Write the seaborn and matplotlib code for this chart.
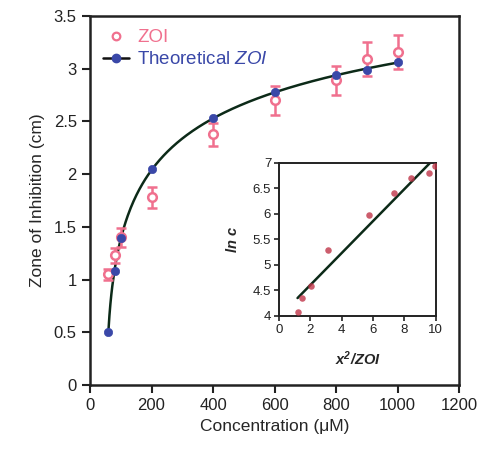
import numpy as np
import matplotlib
matplotlib.use("Agg")
import matplotlib.pyplot as plt
import seaborn as sns
from matplotlib.lines import Line2D

# main panel: concentration (uM) vs zone of inhibition (cm)
conc = [60, 80, 100, 200, 400, 600, 800, 900, 1000]
zoi = [1.05, 1.23, 1.40, 1.78, 2.38, 2.70, 2.89, 3.09, 3.16]
zoi_err = [0.05, 0.07, 0.09, 0.10, 0.11, 0.14, 0.14, 0.16, 0.16]
zoi_theo = [0.50, 1.08, 1.39, 2.05, 2.53, 2.78, 2.94, 2.99, 3.06]

# inset: x^2/ZOI vs ln c
x2_zoi = [1.19, 1.48, 2.06, 3.14, 5.71, 7.35, 8.39, 9.57, 9.92]
ln_c = [4.07, 4.36, 4.58, 5.29, 5.97, 6.41, 6.70, 6.80, 6.93]

pink = "#f0708e"
blue = "#3a48a8"
dark = "#0c2a18"
red = "#c03548"

sns.set_style("ticks")
plt.rcParams["font.family"] = ["Liberation Sans", "DejaVu Sans"]
plt.rcParams["mathtext.fontset"] = "custom"
plt.rcParams["mathtext.it"] = "Liberation Sans:italic"
plt.rcParams["mathtext.bfit"] = "Liberation Sans:bold:italic"
plt.rcParams["mathtext.bf"] = "Liberation Sans:bold"
plt.rcParams["mathtext.rm"] = "Liberation Sans"

fig = plt.figure(figsize=(4.8, 4.5), dpi=100)
ax = fig.add_axes([0.1875, 0.1444, 0.7688, 0.8200])

# smooth theoretical curve: ZOI^2 linear in ln c, fitted on the theoretical points
k, b = np.polyfit(np.log(conc), np.square(zoi_theo), 1)
cc = np.linspace(min(conc), max(conc), 300)
sns.lineplot(x=cc, y=np.sqrt(k * np.log(cc) + b), color=dark, lw=1.8, ax=ax, zorder=2)

ax.errorbar(conc, zoi, yerr=zoi_err, fmt="o", mfc="white", mec=pink, ecolor=pink,
            ms=6.2, mew=1.8, elinewidth=1.8, capsize=3.5, capthick=1.8, zorder=3)
sns.scatterplot(x=conc, y=zoi_theo, color=blue, s=36, edgecolor=blue, ax=ax, zorder=4)

ax.set_xlim(0, 1200)
ax.set_ylim(0, 3.5)
ax.set_xticks(range(0, 1201, 200))
ax.set_yticks(np.arange(0, 3.51, 0.5))
ax.set_yticklabels(["0", "0.5", "1", "1.5", "2", "2.5", "3", "3.5"])
ax.tick_params(direction="out", length=6, width=1.5, labelsize=12, colors="#222222")
for s in ax.spines.values():
    s.set_linewidth(1.8)
    s.set_color("#222222")
ax.set_xlabel("Concentration (\u03bcM)", fontsize=12.5, labelpad=4)
ax.set_ylabel("Zone of Inhibition (cm)", fontsize=12.5, labelpad=6)

handles = [
    Line2D([], [], marker="o", ls="none", mfc="white", mec=pink, mew=1.6, ms=5.5),
    Line2D([], [], marker="o", color="#111111", mfc=blue, mec=blue, lw=1.8, ms=6),
]
leg = ax.legend(handles, ["ZOI", "Theoretical $\\mathit{ZOI}$"], loc="upper left",
                frameon=False, fontsize=13.5, handlelength=1.4, handletextpad=0.4,
                labelspacing=0.25, borderaxespad=0.3, bbox_to_anchor=(0.0, 1.0))
leg.get_texts()[0].set_color(pink)
leg.get_texts()[1].set_color(blue)

# inset
ins = fig.add_axes([0.581, 0.298, 0.327, 0.340])
sns.regplot(x=np.array(x2_zoi), y=np.array(ln_c), ci=None, truncate=True, ax=ins,
            scatter_kws=dict(color=red, s=22, linewidths=0, zorder=3),
            line_kws=dict(color=dark, lw=1.8, zorder=2))
ins.set_xlim(0, 10)
ins.set_ylim(4, 7)
ins.set_xticks(range(0, 11, 2))
ins.set_yticks(np.arange(4, 7.01, 0.5))
ins.set_yticklabels(["4", "4.5", "5", "5.5", "6", "6.5", "7"])
ins.tick_params(direction="out", length=3.5, width=1.2, labelsize=9.5, colors="#222222", pad=2)
for s in ins.spines.values():
    s.set_linewidth(1.4)
    s.set_color("#222222")
ins.set_xlabel("$\\mathbfit{x^2/ZOI}$", fontsize=10.5, labelpad=10)
ins.set_ylabel("$\\mathbfit{ln\\ c}$", fontsize=10.5, labelpad=9)

fig.savefig("out.png", dpi=100)
